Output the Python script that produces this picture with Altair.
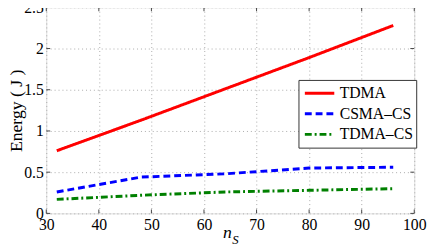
import altair as alt
import pandas as pd

ns = [32, 48, 64, 80, 96]
tdma = [0.76, 1.13, 1.51, 1.89, 2.28]
csma_cs = [0.26, 0.44, 0.48, 0.55, 0.56]
tdma_cs = [0.17, 0.22, 0.26, 0.28, 0.30]
series = ["TDMA", "CSMA\u2013CS", "TDMA\u2013CS"]
colors = ["#ff0000", "#0000ff", "#008000"]
dashes = [[1, 0], [7, 4], [7, 3, 2, 3]]
x_ticks = [30, 40, 50, 60, 70, 80, 90, 100]
y_ticks = [0, 0.5, 1, 1.5, 2, 2.5]

rows = []
for name, vals in zip(series, [tdma, csma_cs, tdma_cs]):
    for n, v in zip(ns, vals):
        rows.append({"ns": n, "energy": v, "series": name})
df = pd.DataFrame(rows)

W, H = 375, 210
FONT = "Liberation Serif, Times New Roman, DejaVu Serif, serif"

xs = alt.Scale(domain=[30, 100], nice=False)
ys = alt.Scale(domain=[0, 2.5], nice=False)

leg = dict(title=None, orient="none", legendX=257, legendY=74,
           labelFont=FONT, labelFontSize=16, labelColor="#000",
           labelExpr="datum.label + '\u2002'",
           symbolType="stroke", symbolSize=900, symbolStrokeWidth=3,
           strokeColor="#333", fillColor="white", padding=3, rowPadding=0,
           clipHeight=21, symbolOffset=2, labelOffset=4, cornerRadius=0)

lines = alt.Chart(df).mark_line(strokeWidth=3).encode(
    x=alt.X("ns:Q", scale=xs,
            axis=alt.Axis(values=x_ticks, title=None, ticks=False, domain=False,
                          labelFontSize=16, labelPadding=3, labelFont=FONT,
                          labelFlush=False, labelColor="#000",
                          gridDash=[1, 3], gridColor="#aaa")),
    y=alt.Y("energy:Q", scale=ys,
            axis=alt.Axis(values=y_ticks, title="Energy ( J )", format="~g",
                          ticks=False, domain=False, labelFontSize=16, labelPadding=3,
                          labelFont=FONT, labelFlush=False, labelColor="#000",
                          titleFont=FONT, titleFontSize=18, titleFontWeight="normal",
                          titleColor="#000", titleX=-30, titleY=H / 2,
                          titleBaseline="middle", titleAngle=270,
                          gridDash=[1, 3], gridColor="#aaa")),
    color=alt.Color("series:N", sort=series,
                    scale=alt.Scale(domain=series, range=colors),
                    legend=alt.Legend(**leg)),
    strokeDash=alt.StrokeDash("series:N", sort=series,
                              scale=alt.Scale(domain=series, range=dashes),
                              legend=alt.Legend(**leg)),
)

xt = pd.DataFrame({"v": x_ticks})
yt = pd.DataFrame({"v": y_ticks})
TL = 4
tick_color = "#444"
xb = alt.Chart(xt).mark_rule(color=tick_color).encode(
    x=alt.X("v:Q", scale=xs), y=alt.value(H), y2=alt.value(H - TL))
xtp = alt.Chart(xt).mark_rule(color=tick_color).encode(
    x=alt.X("v:Q", scale=xs), y=alt.value(0), y2=alt.value(TL))
yl = alt.Chart(yt).mark_rule(color=tick_color).encode(
    y=alt.Y("v:Q", scale=ys), x=alt.value(0), x2=alt.value(TL))
yr = alt.Chart(yt).mark_rule(color=tick_color).encode(
    y=alt.Y("v:Q", scale=ys), x=alt.value(W), x2=alt.value(W - TL))

one = alt.Data(values=[{"a": 1}])
t_n = alt.Chart(one).mark_text(text="n", font=FONT, fontSize=18, fontStyle="italic",
                               align="left", baseline="alphabetic", color="#000").encode(
    x=alt.value(180), y=alt.value(235))
t_s = alt.Chart(one).mark_text(text="S", font=FONT, fontSize=13, fontStyle="italic",
                               align="left", baseline="alphabetic", color="#000").encode(
    x=alt.value(189.5), y=alt.value(241))

chart = alt.layer(lines, xb, xtp, yl, yr, t_n, t_s).properties(
    width=W, height=H,
    autosize=alt.AutoSizeParams(type="none"),
    padding={"left": 39, "top": -3, "right": 14, "bottom": 35},
).configure_view(stroke="#444", strokeWidth=1).configure(background="white")

chart.save("out.html", embed_options={"renderer": "svg", "actions": False})
